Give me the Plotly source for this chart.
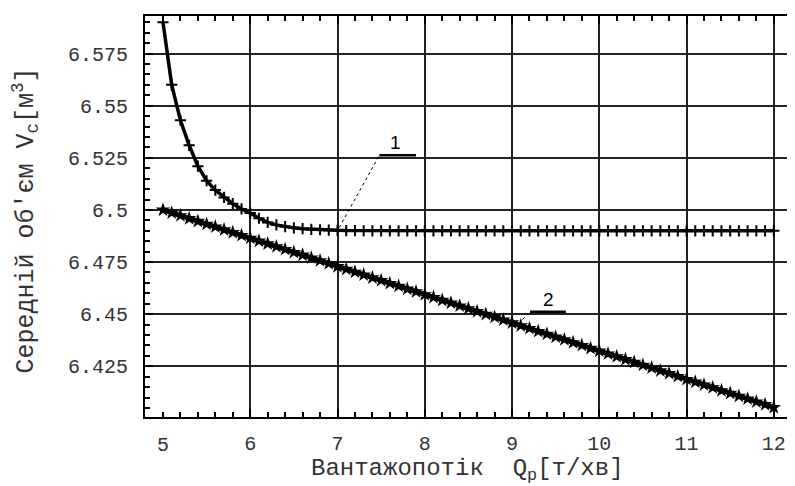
import plotly.graph_objects as go

# Flow rate Q_p [t/min]
q = [5.0, 5.1, 5.2, 5.3, 5.4, 5.5, 5.6, 5.7, 5.8, 5.9,
     6.0, 6.1, 6.2, 6.3, 6.4, 6.5, 6.6, 6.7, 6.8, 6.9,
     7.0, 7.1, 7.2, 7.3, 7.4, 7.5, 7.6, 7.7, 7.8, 7.9,
     8.0, 8.1, 8.2, 8.3, 8.4, 8.5, 8.6, 8.7, 8.8, 8.9,
     9.0, 9.1, 9.2, 9.3, 9.4, 9.5, 9.6, 9.7, 9.8, 9.9,
     10.0, 10.1, 10.2, 10.3, 10.4, 10.5, 10.6, 10.7, 10.8, 10.9,
     11.0, 11.1, 11.2, 11.3, 11.4, 11.5, 11.6, 11.7, 11.8, 11.9, 12.0]

# Curve 1: mean volume V_c [m^3]
v1 = [6.590, 6.560, 6.543, 6.531, 6.521, 6.514, 6.5095, 6.506, 6.503, 6.5005,
      6.4985, 6.496, 6.494, 6.4928, 6.4920, 6.4914, 6.4910, 6.4907, 6.4905, 6.4903,
      6.4902, 6.4901, 6.4901, 6.4900, 6.4900, 6.4900, 6.4900, 6.4900, 6.4900, 6.4900,
      6.4900, 6.4900, 6.4900, 6.4900, 6.4900, 6.4900, 6.4900, 6.4900, 6.4900, 6.4900,
      6.4900, 6.4900, 6.4900, 6.4900, 6.4900, 6.4900, 6.4900, 6.4900, 6.4900, 6.4900,
      6.4900, 6.4900, 6.4900, 6.4900, 6.4900, 6.4900, 6.4900, 6.4900, 6.4900, 6.4900,
      6.4900, 6.4900, 6.4900, 6.4900, 6.4900, 6.4900, 6.4900, 6.4900, 6.4900, 6.4900, 6.4900]

# Curve 2
v2 = [6.5000, 6.4986, 6.4973, 6.4959, 6.4946, 6.4932, 6.4919, 6.4905, 6.4892, 6.4878,
      6.4865, 6.4851, 6.4838, 6.4824, 6.4811, 6.4797, 6.4784, 6.4770, 6.4757, 6.4743,
      6.4729, 6.4716, 6.4702, 6.4689, 6.4675, 6.4662, 6.4648, 6.4635, 6.4621, 6.4608,
      6.4594, 6.4581, 6.4567, 6.4554, 6.4540, 6.4527, 6.4513, 6.4500, 6.4486, 6.4473,
      6.4459, 6.4445, 6.4432, 6.4418, 6.4405, 6.4391, 6.4378, 6.4364, 6.4351, 6.4337,
      6.4324, 6.4310, 6.4297, 6.4283, 6.4270, 6.4256, 6.4243, 6.4229, 6.4216, 6.4202,
      6.4188, 6.4175, 6.4161, 6.4148, 6.4134, 6.4121, 6.4107, 6.4094, 6.4080, 6.4067, 6.4053]

x_ticks = [5, 6, 7, 8, 9, 10, 11, 12]
y_ticks = [6.425, 6.45, 6.475, 6.5, 6.525, 6.55, 6.575]
y_labels = ["6.425", "6.45", "6.475", "6.5", "6.525", "6.55", "6.575"]
x_title = "Вантажопотік  Q<sub>p</sub>[т/хв]"
y_title = "Середній об'єм V<sub>c</sub>[м<sup>3</sup>]"

FONT = "Liberation Mono, DejaVu Sans Mono, monospace"
TXT = "#333333"

fig = go.Figure()
fig.add_trace(go.Scatter(
    x=q, y=v1, mode="lines+markers",
    line=dict(color="black", width=3.5),
    marker=dict(symbol="cross-thin-open", size=8, line=dict(color="black", width=2)),
    showlegend=False))
fig.add_trace(go.Scatter(
    x=q, y=v2, mode="lines+markers",
    line=dict(color="black", width=5),
    marker=dict(symbol="star", size=11, color="black"),
    showlegend=False))

# leader lines and labels
fig.add_shape(type="line", xref="x", yref="y", x0=7.02, y0=6.4916, x1=7.48, y1=6.5262,
              line=dict(color="black", width=1, dash="dot"))
fig.add_shape(type="line", xref="x", yref="y", x0=7.48, y0=6.5262, x1=7.90, y1=6.5262,
              line=dict(color="black", width=2.5))
fig.add_annotation(x=7.66, y=6.5262, xref="x", yref="y", text="1", showarrow=False,
                   yanchor="bottom", font=dict(family="Arial", size=19, color="black"))
fig.add_shape(type="line", xref="x", yref="y", x0=9.12, y0=6.4474, x1=9.206, y1=6.4512,
              line=dict(color="black", width=1, dash="dot"))
fig.add_shape(type="line", xref="x", yref="y", x0=9.206, y0=6.4512, x1=9.617, y1=6.4512,
              line=dict(color="black", width=2.5))
fig.add_annotation(x=9.42, y=6.4512, xref="x", yref="y", text="2", showarrow=False,
                   yanchor="bottom", font=dict(family="Arial", size=19, color="black"))

# first x tick label has no grid line in the original: draw it as a text label
fig.add_annotation(x=x_ticks[0], y=0, xref="x", yref="paper", text=str(x_ticks[0]),
                   showarrow=False, yanchor="top", yshift=-15,
                   font=dict(family=FONT, size=20, color=TXT))
# axis titles
fig.add_annotation(x=0.5, y=0, xref="paper", yref="paper", text=x_title,
                   showarrow=False, yanchor="middle", xshift=-3, yshift=-53,
                   font=dict(family=FONT, size=24, color=TXT))
fig.add_annotation(x=0, y=0.5, xref="paper", yref="paper", text=y_title,
                   showarrow=False, textangle=-90, xanchor="center", yanchor="middle",
                   xshift=-120, yshift=-4,
                   font=dict(family=FONT, size=25, color=TXT))

fig.update_layout(
    width=795, height=486,
    margin=dict(l=137, r=6, t=8, b=77),
    paper_bgcolor="white", plot_bgcolor="white",
    font=dict(family=FONT, size=20, color=TXT),
)
fig.update_xaxes(
    range=[4.794, 12.243], tickvals=x_ticks[1:],
    showgrid=True, gridcolor="#222222", gridwidth=2,
    showline=True, linecolor="black", linewidth=2, mirror="ticks",
    ticks="inside", ticklen=8, tickwidth=2, tickcolor="black",
    minor=dict(dtick=0.2, tick0=5, ticks="inside", ticklen=5, tickwidth=2,
               tickcolor="black", showgrid=False),
    zeroline=False, ticklabelstandoff=7,
)
fig.update_yaxes(
    range=[6.4007, 6.593], tickvals=y_ticks, ticktext=y_labels,
    showgrid=True, gridcolor="#222222", gridwidth=2,
    showline=True, linecolor="black", linewidth=2, mirror="ticks",
    ticks="inside", ticklen=8, tickwidth=2, tickcolor="black",
    minor=dict(dtick=0.005, tick0=6.4, ticks="inside", ticklen=5, tickwidth=2,
               tickcolor="black", showgrid=False),
    zeroline=False, ticklabelstandoff=11,
)

fig.write_html("out.html")
